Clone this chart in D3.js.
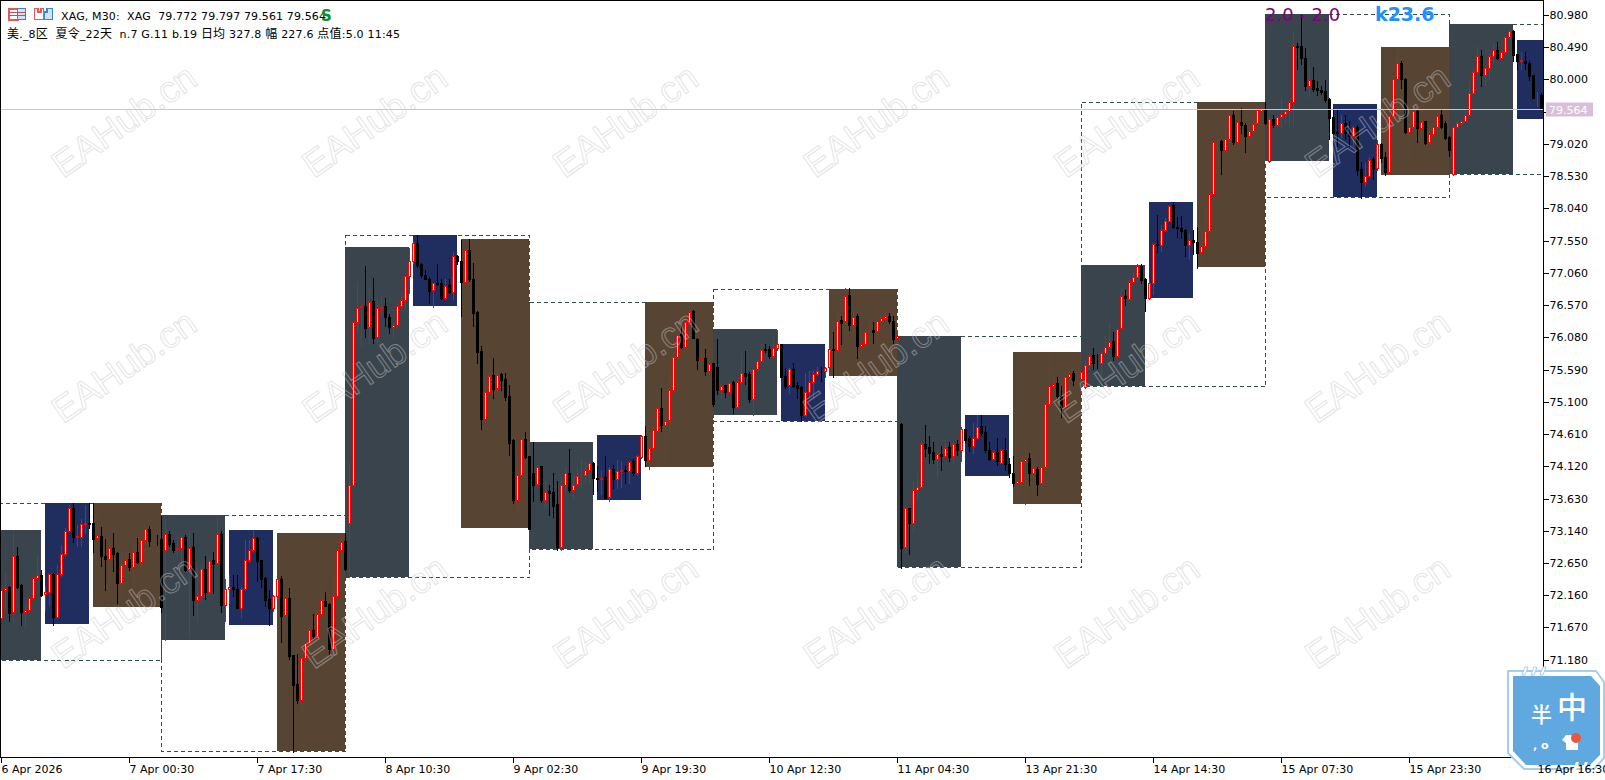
<!DOCTYPE html>
<html>
<head>
<meta charset="utf-8">
<title>XAG M30</title>
<script src="https://cdn.jsdelivr.net/npm/d3@7"></script>
<style>
  html, body { margin: 0; padding: 0; background: #fff; overflow: hidden; }
  svg { display: block; }
  text { font-family: "DejaVu Sans", sans-serif; font-size: 11px; fill: #000; }
  tspan.cjk { font-family: "Noto Sans CJK SC", sans-serif; font-size: 12px; }
</style>
</head>
<body>
<div id="chart"></div>
<script>
// candles, each row is [open, high, low, close]
var session1 = [
  [71.82,72.27,71.80,72.25],[72.24,72.50,71.94,72.28],[72.30,72.31,71.77,71.90],[71.92,73.16,71.73,72.77],
  [72.77,72.90,72.27,72.30],[72.33,72.34,71.72,71.92],[71.92,72.02,71.68,71.95],[71.95,72.14,71.92,72.12],
  [72.12,72.44,72.10,72.43],[72.43,72.78,72.42,72.47],[72.48,72.55,72.15,72.17],[72.18,72.30,71.94,72.21],
  [72.21,72.50,72.02,72.49],[72.49,72.50,71.72,71.83],[71.83,72.63,71.82,72.49],[72.49,72.93,72.46,72.79],
  [72.79,73.19,72.76,73.14],[73.14,73.54,73.14,73.49],[73.49,73.57,72.98,73.05],[73.05,73.24,72.91,73.07],
  [73.05,73.32,72.91,73.25],[73.25,73.54,73.11,73.26],[73.26,73.57,73.19,73.25],[73.26,73.57,72.82,73.02],
  [73.03,73.47,72.98,73.08],[73.07,73.21,72.61,72.76],[72.77,73.02,72.25,72.72],[72.72,73.01,72.22,72.88],
  [72.88,73.11,72.53,72.80],[72.81,72.82,72.05,72.36],[72.36,72.81,72.12,72.62],[72.62,72.78,72.59,72.70],
  [72.72,72.81,72.55,72.59],[72.59,72.93,72.16,72.82],[72.83,73.03,72.65,72.68],[72.68,73.05,72.55,73.01],
  [73.01,73.18,72.78,73.17],[73.18,73.22,72.92,72.99],[73.00,73.04,72.93,73.01],[73.01,73.09,72.93,73.00]
];
var session2 = [
  [73.02,73.37,71.92,71.99],[72.86,73.32,71.48,73.10],[73.10,73.15,72.91,72.95],[72.96,73.01,72.83,72.86],
  [72.87,73.09,72.76,72.88],[72.88,73.09,72.63,73.05],[73.06,73.09,72.53,72.55],[72.56,73.14,71.54,72.89],
  [72.90,73.11,71.87,72.09],[72.09,72.58,71.77,72.16],[72.16,72.61,72.07,72.56],[72.57,72.76,72.11,72.21],
  [72.21,72.73,72.19,72.69],[72.70,72.83,72.20,72.64],[72.65,73.39,72.63,73.10],[73.10,73.14,71.92,72.02],
  [72.02,72.41,71.77,72.26],[72.26,72.48,72.05,72.30],[72.29,72.48,72.15,72.26],[72.26,72.48,71.97,71.98],
  [71.98,72.30,71.84,72.26],[72.26,73.00,72.24,72.70],[72.70,73.00,72.68,72.85],[72.85,73.16,72.83,73.03],
  [73.03,73.06,72.39,72.69],[72.70,72.71,72.30,72.42],[72.43,72.44,72.00,72.10],[72.11,72.25,71.71,71.98],
  [71.98,72.17,71.93,72.15],[72.15,72.44,72.12,72.41],[72.42,72.46,71.45,71.85],[71.86,72.27,71.72,72.12],
  [72.13,72.27,71.20,71.25],[71.26,71.26,69.79,70.80],[70.82,71.27,70.53,70.58],[70.57,71.23,70.33,71.21],
  [71.21,71.46,70.96,71.44],[71.44,71.78,71.24,71.64],[71.64,71.88,71.51,71.55],[71.55,72.02,71.54,71.88],
  [71.88,72.33,71.87,72.09],[72.08,72.22,72.00,72.01],[72.04,72.05,71.26,71.35],[71.35,72.50,71.26,72.15],
  [72.15,72.88,72.05,72.85],[72.85,73.11,72.60,72.97]
];
var session3 = [
  [72.99,73.11,72.55,72.57],[73.27,74.19,72.45,73.85],[73.85,76.32,73.83,76.32],[76.32,76.93,76.17,76.54],
  [76.55,76.60,75.97,76.56],[76.56,77.17,76.09,76.23],[76.24,76.85,76.00,76.63],[76.64,76.99,76.00,76.08],
  [76.09,76.67,75.99,76.54],[76.54,76.73,76.41,76.55],[76.56,76.68,76.26,76.39],[76.39,76.44,76.16,76.25],
  [76.25,76.31,76.08,76.28],[76.28,76.58,76.27,76.56],[76.56,76.75,76.55,76.65],[76.65,77.03,76.53,77.02],
  [77.02,77.45,76.76,77.24],[77.24,77.55,77.22,77.52],[77.52,77.64,77.16,77.19],[77.20,77.22,77.00,77.03],
  [77.04,77.11,76.97,76.98],[76.98,77.00,76.61,76.79],[76.80,76.92,76.55,76.91],[76.91,77.20,76.89,76.90],
  [76.91,76.98,76.67,76.68],[76.69,76.98,76.67,76.87],[76.88,76.98,76.76,76.78],[76.78,77.38,76.67,77.32],
  [77.32,77.34,77.20,77.25],[77.25,77.56,76.41,76.93],[76.93,77.43,76.92,77.41],[77.41,77.58,76.94,76.97],
  [76.98,77.22,76.26,76.46],[76.47,76.49,75.70,75.87],[75.88,75.95,74.69,74.84],[74.85,75.40,74.79,75.25],
  [75.25,75.66,75.23,75.50],[75.51,75.77,75.16,75.30],[75.31,75.70,75.29,75.52],[75.53,75.54,75.28,75.44],
  [75.45,75.54,75.13,75.18],[75.19,75.37,74.30,74.48],[74.52,74.54,73.57,73.61],[73.61,74.31,73.46,74.00],
  [73.99,74.56,73.97,74.54],[74.54,74.65,74.26,74.27]
];
var session4 = [
  [74.28,74.29,73.17,73.18],[74.03,74.50,73.60,73.85],[73.86,74.15,73.85,74.12],[74.13,74.13,73.59,73.61],
  [73.62,73.93,73.49,73.74],[73.75,73.84,73.38,73.72],[73.73,74.03,73.36,73.52],[73.55,73.90,72.85,72.90],
  [72.90,73.99,72.85,73.84],[73.85,74.12,73.72,74.03],[74.03,74.39,73.74,73.76],[73.77,74.00,73.64,73.85],
  [73.86,74.11,73.83,73.98],[73.99,74.24,73.81,74.00],[74.00,74.19,73.87,74.07],[74.07,74.21,73.88,74.17],
  [74.18,74.19,73.70,73.95],[73.95,74.13,73.75,73.94],[73.94,74.05,73.70,73.95],[73.97,74.29,73.64,73.65],
  [73.66,74.11,73.60,74.09],[74.09,74.15,73.80,73.93],[73.93,74.22,73.79,74.06],[74.06,74.20,73.81,74.07],
  [74.07,74.13,73.87,74.06],[74.05,74.20,73.87,74.19],[74.21,74.24,74.00,74.03],[74.03,74.30,74.00,74.28],
  [74.27,74.60,74.26,74.58],[74.58,74.74,74.13,74.22],[74.23,74.42,74.09,74.40],[74.41,74.74,74.31,74.68],
  [74.67,75.35,74.61,75.01],[75.01,75.31,74.67,74.75],[74.76,74.84,74.20,74.82],[74.83,75.59,74.62,75.28],
  [75.28,75.86,75.27,75.79],[75.79,76.28,75.78,76.13],[76.14,76.26,75.93,75.94],[75.94,76.34,75.93,76.32],
  [76.32,76.62,76.30,76.47],[76.48,76.51,76.08,76.08],[76.06,76.08,75.61,75.74],[75.76,76.04,75.62,75.77],
  [75.77,75.91,75.52,75.57],[75.57,75.70,75.50,75.68]
];
var session5 = [
  [75.69,75.69,75.05,75.07],[75.63,76.06,75.23,75.28],[75.28,75.38,75.17,75.35],[75.36,75.36,75.18,75.26],
  [75.26,75.44,75.25,75.40],[75.41,75.43,74.94,75.03],[75.03,75.43,75.02,75.41],[75.41,75.85,75.38,75.54],
  [75.55,75.88,75.38,75.50],[75.53,75.56,75.11,75.15],[75.15,75.60,74.90,75.60],[75.60,75.75,75.59,75.72],
  [75.72,75.98,75.71,75.90],[75.91,75.98,75.86,75.89],[75.91,75.95,75.78,75.80],[75.80,76.09,75.79,75.93],
  [75.93,76.20,75.89,75.98],[75.99,75.99,75.48,75.49],[75.50,75.62,75.32,75.35],[75.36,75.62,75.24,75.60],
  [75.61,75.70,75.33,75.35],[75.36,75.41,75.17,75.32],[75.33,75.35,74.81,74.91],[74.91,75.54,74.90,75.26],
  [75.26,75.57,75.16,75.41],[75.41,75.59,75.16,75.53],[75.53,75.63,75.52,75.57],[75.58,75.63,75.42,75.57],
  [75.57,75.64,75.49,75.62],[75.63,75.92,75.60,75.91],[75.91,76.17,75.49,75.89],[75.89,76.45,75.88,76.34],
  [76.35,76.41,75.99,76.31],[76.34,76.83,75.99,76.72],[76.73,76.83,76.20,76.28],[76.28,76.53,76.14,76.40],
  [76.41,76.44,75.77,75.95],[75.95,76.16,75.72,75.99],[75.99,76.20,75.95,76.17],[76.18,76.36,75.98,76.19],
  [76.20,76.32,76.00,76.17],[76.18,76.36,75.93,76.34],[76.34,76.48,76.30,76.38],[76.38,76.45,76.33,76.41],
  [76.41,76.46,76.31,76.33],[76.34,76.41,76.00,76.06]
];
var session6 = [
  [76.07,76.20,75.96,76.10],[74.77,74.79,72.58,72.89],[72.90,73.52,72.83,73.49],[73.49,73.50,72.79,73.27],
  [73.27,73.90,73.14,73.77],[73.77,74.02,73.65,73.81],[73.81,74.50,73.80,74.47],[74.47,74.75,74.28,74.41],
  [74.42,74.59,74.18,74.33],[74.34,74.49,74.18,74.24],[74.24,74.34,73.97,74.32],[74.32,74.43,74.07,74.28],
  [74.28,74.52,74.27,74.41],[74.42,74.49,74.20,74.27],[74.28,74.49,74.18,74.46],[74.46,74.53,74.30,74.37],
  [74.38,74.72,74.20,74.69],[74.69,74.70,74.50,74.53],[74.55,74.58,74.36,74.44],[74.44,74.78,74.33,74.55],
  [74.55,74.90,74.54,74.73],[74.74,74.90,74.60,74.64],[74.65,74.74,74.34,74.37],[74.37,74.50,74.22,74.24],
  [74.24,74.37,74.23,74.34],[74.35,74.56,74.15,74.20],[74.18,74.39,74.17,74.37],[74.37,74.56,74.07,74.16],
  [74.16,74.25,73.97,74.02],[74.03,74.29,73.83,73.88],[73.88,74.09,73.63,73.90],[73.89,74.22,73.80,74.20],
  [74.20,74.48,73.55,74.24],[74.25,74.33,73.84,74.03],[74.02,74.29,73.76,74.10],[74.09,74.12,73.69,73.86],
  [73.87,74.14,73.80,74.11],[74.11,75.16,74.01,75.08],[75.08,75.86,75.07,75.34],[75.34,75.55,75.33,75.38],
  [75.39,75.48,75.17,75.19],[75.20,75.34,74.88,75.03],[75.03,75.58,75.01,75.48],[75.48,75.57,75.27,75.53],
  [75.54,75.58,75.36,75.44],[75.45,75.56,75.35,75.46]
];
var session7 = [
  [75.45,75.57,75.42,75.56],[75.33,75.74,75.32,75.66],[75.66,75.85,75.60,75.81],[75.82,75.92,75.60,75.69],
  [75.70,75.83,75.62,75.69],[75.69,75.87,75.36,75.85],[75.85,76.12,75.83,75.94],[75.94,76.30,75.92,76.02],
  [76.03,76.17,75.74,75.80],[75.80,76.24,75.79,76.22],[76.23,76.80,76.22,76.71],[76.71,76.80,76.58,76.69],
  [76.67,76.97,76.66,76.93],[76.93,77.08,76.91,77.00],[77.00,77.20,76.98,77.17],[77.17,77.20,76.92,76.96],
  [76.97,76.99,76.49,76.69],[76.69,76.98,76.67,76.92],[76.92,77.52,76.74,77.50],[77.50,77.94,77.39,77.49],
  [77.49,77.79,77.40,77.72],[77.72,77.90,77.70,77.86],[77.86,78.10,77.85,78.09],[78.10,78.14,77.75,77.77],
  [77.77,77.92,77.61,77.75],[77.75,77.93,77.60,77.71],[77.72,77.73,77.33,77.49],[77.49,77.68,77.28,77.56],
  [77.57,77.72,77.36,77.54],[77.54,77.77,77.14,77.37],[77.38,77.73,77.21,77.48],[77.48,78.08,77.46,77.71],
  [77.71,78.33,77.69,78.27],[78.27,79.06,78.26,79.05],[79.05,79.30,78.75,79.06],[79.07,79.08,78.57,78.93],
  [78.94,79.34,78.92,79.10],[79.10,79.51,79.04,79.46],[79.46,79.52,79.02,79.05],[79.05,79.37,79.03,79.36],
  [79.36,79.58,79.20,79.31],[79.32,79.34,78.90,79.14],[79.14,79.24,79.05,79.22],[79.22,79.35,79.20,79.33],
  [79.34,79.60,79.33,79.54],[79.53,79.63,79.50,79.55]
];
var session8 = [
  [79.56,79.66,79.33,79.34],[78.76,79.43,78.75,79.41],[79.41,79.47,79.28,79.31],[79.31,79.46,79.30,79.44],
  [79.44,79.73,79.28,79.48],[79.48,79.56,79.34,79.53],[79.53,79.70,79.28,79.66],[79.66,80.73,79.32,80.51],
  [80.51,80.56,80.16,80.50],[80.51,80.98,80.24,80.33],[80.34,80.49,79.84,79.90],[79.90,80.18,79.74,80.00],
  [80.00,80.19,79.83,79.86],[79.87,79.98,79.77,79.84],[79.85,79.90,79.78,79.82],[79.83,80.00,79.66,79.69],
  [79.71,79.72,79.10,79.42],[79.43,79.57,79.15,79.20],[79.21,79.56,78.99,79.19],[79.20,79.47,79.13,79.35],
  [79.35,79.47,79.10,79.19],[79.19,79.37,78.99,79.14],[79.15,79.30,78.99,79.28],[79.29,79.31,78.56,78.63],
  [78.64,78.75,78.21,78.45],[78.45,78.73,78.39,78.54],[78.54,78.83,78.53,78.78],[78.79,78.83,78.50,78.66],
  [78.66,79.09,78.63,79.03],[79.03,79.04,78.75,78.82],[78.83,78.90,78.55,78.60],[78.60,79.47,78.58,79.45],
  [79.45,80.03,79.44,80.01],[80.01,80.49,79.98,80.25],[80.26,80.28,79.87,80.01],[80.02,80.03,79.20,79.21],
  [79.21,79.36,78.80,79.29],[79.29,79.65,79.28,79.52],[79.52,79.55,79.06,79.27],[79.27,79.52,79.00,79.36],
  [79.37,79.38,79.02,79.04],[79.05,79.25,79.03,79.18],[79.18,79.32,79.16,79.29],[79.29,79.47,79.27,79.45],
  [79.46,79.55,79.27,79.29],[79.35,79.37,79.10,79.12]
];
var session9 = [
  [79.13,79.14,78.85,78.93],[78.57,79.30,78.56,79.29],[79.29,79.37,79.28,79.35],[79.34,79.39,79.33,79.37],
  [79.37,79.55,79.36,79.46],[79.46,79.98,79.45,79.80],[79.80,80.20,79.78,80.12],[80.12,80.52,80.10,80.36],
  [80.36,80.45,79.91,80.07],[80.07,80.20,79.92,80.18],[80.18,80.46,80.00,80.36],[80.36,80.56,80.25,80.45],
  [80.45,80.58,80.32,80.33],[80.34,80.44,80.33,80.42],[80.42,80.66,80.40,80.65],[80.65,80.76,80.64,80.74],
  [80.74,80.76,80.28,80.38],[80.39,80.40,80.16,80.28],[80.29,80.43,80.16,80.30],[80.29,80.42,80.16,80.25],
  [80.25,80.29,80.00,80.06],[80.07,80.08,79.72,79.73],[79.75,79.81,79.60,79.76],[79.772,79.797,79.561,79.564]
];

// session boxes: bar index where they start and end, then the top and bottom price
var boxKinds = ["slate","navy","brown"];
var boxStart = [-6,11,23, 40,57,69, 86,103,115, 132,149,161, 178,195,207, 224,241,253, 270,287,299, 316,333,345, 362,379];
var boxEnd =   [10,22,40, 56,68,86, 102,114,132, 148,160,178, 194,206,224, 240,252,270, 286,298,316, 332,344,362, 378,390];
var boxHigh =  [73.16,73.57,73.57, 73.39,73.16,73.12, 77.46,77.64,77.58, 74.50,74.60,76.62, 76.21,75.99,76.82, 76.11,74.91,75.86, 77.19,78.14,79.66, 81.00,79.63,80.50, 80.85,80.61];
var boxLow =   [71.18,71.73,71.99, 71.49,71.72,69.80, 72.45,76.56,73.19, 72.87,73.62,74.11, 74.91,74.81,75.50, 72.60,73.98,73.55, 75.35,76.69,77.16, 78.77,78.22,78.56, 78.57,79.40];

// dashed range around each group of three boxes
var rangeStart = [-6,40,86,132,178,224,270,316,362];
var rangeEnd =   [40,86,132,178,224,270,316,362,408];
var rangeHigh =  [73.57,73.39,77.64,76.62,76.82,76.11,79.66,81.00,80.85];
var rangeLow =   [71.18,69.80,72.45,72.87,74.81,72.60,75.35,78.22,78.57];

var priceTicks = [80.98,80.49,80.00,79.51,79.02,78.53,78.04,77.55,77.06,76.57,76.08,75.59,75.10,74.61,74.12,73.63,73.14,72.65,72.16,71.67,71.18];
var timeTicks = [0,32,64,96,128,160,192,224,256,288,320,352,384];
var timeLabels = ["6 Apr 2026","7 Apr 00:30","7 Apr 17:30","8 Apr 10:30","9 Apr 02:30","9 Apr 19:30","10 Apr 12:30","11 Apr 04:30","13 Apr 21:30","14 Apr 14:30","15 Apr 07:30","15 Apr 23:30","16 Apr 16:30"];
var lastPrice = 79.564;

// second header line, cut where the script changes so the Chinese gets its own size
var infoParts = ["美","._8","区","  ","夏令","_22","天","  n.7 G.11 b.19 ","日均"," 327.8 ","幅"," 227.6 ","点值",":5.0 11:45"];

var bars = [].concat(session1, session2, session3, session4, session5, session6, session7, session8, session9);

var svgWidth = 1605;
var svgHeight = 780;
var plotRight = 1543;
var plotBottom = 757;

var boxColor = { slate: "#3a444d", navy: "#1f2e5f", brown: "#574433" };

var svg = d3.select("#chart")
  .append("svg")
  .attr("width", svgWidth)
  .attr("height", svgHeight);

var xScale = d3.scaleLinear().domain([0, 385]).range([1.5, 1541.5]);
var yScale = d3.scaleLinear().domain([80.98, 71.18]).range([15.4, 660.2]);

// snap to the pixel grid, the candles look wrong when blurred
function py(p) { return Math.round(yScale(p)) + 0.5; }

svg.append("defs").append("clipPath").attr("id", "plot")
  .append("rect").attr("x", 0).attr("y", 0).attr("width", plotRight).attr("height", plotBottom);

var plot = svg.append("g").attr("clip-path", "url(#plot)");

// dashed ranges
plot.selectAll("rect.range")
  .data(rangeStart)
  .enter()
  .append("rect")
  .attr("class", "range")
  .attr("x", d => xScale(d))
  .attr("y", (d, i) => py(rangeHigh[i]))
  .attr("width", (d, i) => xScale(rangeEnd[i]) - xScale(d))
  .attr("height", (d, i) => py(rangeLow[i]) - py(rangeHigh[i]))
  .attr("fill", "none")
  .attr("stroke", "#2f4f4f")
  .attr("stroke-dasharray", "4,3")
  .attr("shape-rendering", "crispEdges");

// filled boxes
plot.selectAll("rect.box")
  .data(boxStart)
  .enter()
  .append("rect")
  .attr("class", "box")
  .attr("x", d => xScale(d) - 0.5)
  .attr("y", (d, i) => py(boxHigh[i]) - 0.5)
  .attr("width", (d, i) => xScale(boxEnd[i]) - xScale(d))
  .attr("height", (d, i) => py(boxLow[i]) - py(boxHigh[i]))
  .attr("fill", (d, i) => boxColor[boxKinds[i % 3]]);

// candles
var candle = plot.selectAll("g.candle")
  .data(bars)
  .enter()
  .append("g")
  .attr("class", "candle")
  .attr("shape-rendering", "crispEdges");

candle.append("line")
  .attr("x1", (d, i) => xScale(i))
  .attr("x2", (d, i) => xScale(i))
  .attr("y1", d => py(d[1]) - 0.5)
  .attr("y2", d => py(d[2]) + 0.5)
  .attr("stroke", d => d[3] >= d[0] ? "#ff0000" : "#000");

candle.append("rect")
  .attr("x", (d, i) => xScale(i) - 1)
  .attr("width", 2)
  .attr("y", d => py(Math.max(d[0], d[3])))
  .attr("height", d => Math.abs(py(d[0]) - py(d[3])))
  .attr("fill", d => d[3] >= d[0] ? "#fff" : "#000")
  .attr("stroke", d => d[3] >= d[0] ? "#ff0000" : "#000");

// current price line
plot.append("line")
  .attr("x1", 0)
  .attr("x2", plotRight)
  .attr("y1", py(lastPrice))
  .attr("y2", py(lastPrice))
  .attr("stroke", "#d8bfd8")
  .attr("shape-rendering", "crispEdges");

// frame
svg.append("path")
  .attr("d", `M${plotRight + 0.5},${plotBottom + 0.5}H0.5V0.5H${plotRight + 0.5}Z`)
  .attr("fill", "none")
  .attr("stroke", "#000")
  .attr("shape-rendering", "crispEdges");

// price axis
var yAxis = d3.axisRight(yScale)
  .tickValues(priceTicks)
  .tickFormat(d3.format(".3f"))
  .tickSize(5)
  .tickPadding(1)
  .offset(0);

var yAxisGroup = svg.append("g")
  .attr("transform", `translate(${plotRight + 0.5},0)`)
  .call(yAxis);
yAxisGroup.select(".domain").remove();
yAxisGroup.selectAll("line").attr("shape-rendering", "crispEdges");

// time axis, the labels go on after the badge so they stay on top of it
var xAxis = d3.axisBottom(xScale)
  .tickValues(timeTicks)
  .tickFormat((d, i) => timeLabels[i])
  .tickSize(5)
  .tickPadding(3)
  .offset(0);

var xLines = svg.append("g")
  .attr("transform", `translate(0,${plotBottom + 0.5})`)
  .call(xAxis);
xLines.select(".domain").remove();
xLines.selectAll("text").remove();
xLines.selectAll("line").attr("shape-rendering", "crispEdges");

// price tag
var tag = svg.append("g");
tag.append("rect")
  .attr("x", 1546)
  .attr("y", py(lastPrice) - 7)
  .attr("width", 47)
  .attr("height", 14)
  .attr("fill", "#d8bfd8");
tag.append("text")
  .attr("x", 1549)
  .attr("y", py(lastPrice) + 4)
  .style("fill", "#fff")
  .text(d3.format(".3f")(lastPrice));

// watermark
var watermark = svg.append("g");
d3.range(6).forEach(function(col) {
  d3.range(3).forEach(function(row) {
    watermark.append("text")
      .attr("transform", `translate(${63 + col * 250.7},${179 + row * 245.5}) rotate(-35)`)
      .style("font-family", "'Liberation Sans', sans-serif")
      .style("font-size", "37px")
      .style("fill", "none")
      .attr("stroke", "#c8c8c8")
      .attr("stroke-opacity", 0.5)
      .text("EAHub.cn");
  });
});

// header
svg.append("text").attr("x", 61).attr("y", 20)
  .attr("xml:space", "preserve")
  .attr("textLength", 265)
  .text("XAG, M30:  XAG  79.772 79.797 79.561 79.564");
svg.append("text").attr("x", 321).attr("y", 21)
  .style("font-size", "15px").style("font-weight", "bold").style("fill", "#0a8f2a").text("S");

var infoLine = svg.append("text").attr("x", 7).attr("y", 38)
  .attr("xml:space", "preserve")
  .attr("textLength", 393);
infoLine.selectAll("tspan")
  .data(infoParts)
  .enter()
  .append("tspan")
  .attr("class", d => /[\u4e00-\u9fff]/.test(d) ? "cjk" : null)
  .text(d => d);

// header icons
var icons = svg.append("g").attr("shape-rendering", "crispEdges");
icons.append("rect").attr("x", 8.5).attr("y", 8.5).attr("width", 9).attr("height", 11).attr("fill", "#fff").attr("stroke", "#e8555a").attr("stroke-width", 2);
icons.append("rect").attr("x", 17.5).attr("y", 8.5).attr("width", 8).attr("height", 11).attr("fill", "#cfe3f5").attr("stroke", "#3a86c8").attr("stroke-width", 1.5);
[12, 15].forEach(function(y) {
  icons.append("line").attr("x1", 9).attr("x2", 25).attr("y1", y + 0.5).attr("y2", y + 0.5).attr("stroke", "#c05060");
});
icons.append("path").attr("d", "M34.5,8.5H38V12H41V8.5H43.5V19.5H34.5Z").attr("fill", "#fff").attr("stroke", "#e8555a").attr("stroke-width", 1.5);
icons.append("path").attr("d", "M44.5,19.5V12H47V8.5H52.5V19.5Z").attr("fill", "#cfe3f5").attr("stroke", "#3a86c8").attr("stroke-width", 1.5);

// top right notes
svg.append("text").attr("x", 1265).attr("y", 21)
  .style("font-size", "18px").style("fill", "#800080").text("2.0 - 2.0");
svg.append("text").attr("x", 1375).attr("y", 21)
  .style("font-size", "19px").style("font-weight", "bold").style("fill", "#1e90ff").text("k23.6");

// badge in the corner
var badge = svg.append("g");
badge.append("path")
  .attr("d", "M1508,671H1596L1604,682V758L1594,769H1524L1508,753Z")
  .attr("fill", "#fff")
  .attr("stroke", "#a5cdef")
  .attr("stroke-width", 2);
badge.append("path")
  .attr("d", "M1513,676H1591L1600,686V755L1590,765H1526L1513,751Z")
  .attr("fill", "#5fa8e0");
[1522, 1531, 1540].forEach(function(x) {
  badge.append("path").attr("d", `M${x},675L${x + 3},667H${x + 6}L${x + 3},675Z`).attr("fill", "#fff").attr("stroke", "#a5cdef");
});
[1573, 1582].forEach(function(x) {
  badge.append("path").attr("d", `M${x},770L${x + 3},762H${x + 6}L${x + 3},770Z`).attr("fill", "#fff");
});
badge.append("text").attr("x", 1531).attr("y", 722)
  .style("font-family", "'Noto Sans CJK SC', sans-serif").style("font-size", "21px").style("font-weight", "500").style("fill", "#fff").text("半");
badge.append("text").attr("x", 1557).attr("y", 718)
  .style("font-family", "'Noto Sans CJK SC', sans-serif").style("font-size", "30px").style("font-weight", "500").style("fill", "#fff").text("中");
badge.append("text").attr("x", 1533).attr("y", 749)
  .style("font-size", "11px").style("font-weight", "bold").style("fill", "#fff").attr("xml:space", "preserve").text(", o");
badge.append("path")
  .attr("d", "M1566,735L1562,740L1566,743V750H1578V741L1571,735Z")
  .attr("fill", "#fff");
badge.append("circle").attr("cx", 1576).attr("cy", 738).attr("r", 5).attr("fill", "#f0543c");

var xLabels = svg.append("g")
  .attr("transform", `translate(0,${plotBottom + 0.5})`)
  .call(xAxis);
xLabels.select(".domain").remove();
xLabels.selectAll("line").remove();
xLabels.selectAll("text").attr("text-anchor", "start");
</script>
</body>
</html>
